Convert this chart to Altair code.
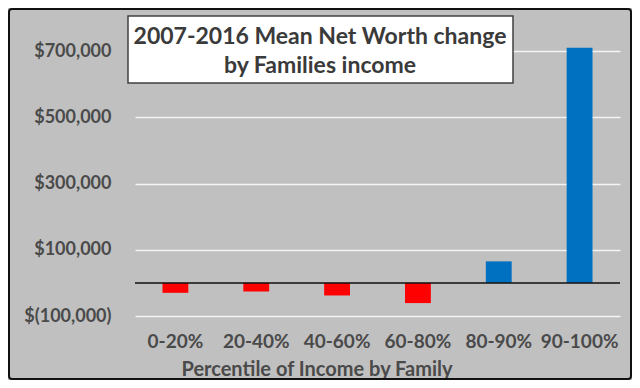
import altair as alt
import pandas as pd

categories = ["0-20%", "20-40%", "40-60%", "60-80%", "80-90%", "90-100%"]
values = [-30000, -26000, -38000, -61000, 65000, 710000]
y_ticks = [-100000, 100000, 300000, 500000, 700000]
title_lines = ["2007-2016 Mean Net Worth change", "by Families income"]
x_title = "Percentile of Income by Family"

df = pd.DataFrame({
    "cat": categories,
    "val": values,
    "sign": ["neg" if v < 0 else "pos" for v in values],
})

W, H = 485, 298
FONT = "Lato"
LABEL_COLOR = "#4a4a4a"

base = alt.Chart(df)

bars = base.mark_bar().encode(
    x=alt.X("cat:N", sort=categories,
            scale=alt.Scale(paddingInner=0.68, paddingOuter=0.34),
            axis=alt.Axis(title=None, labelAngle=0, labelPadding=16,
                          labelFont=FONT, labelFontSize=19, labelFontWeight="bold",
                          labelColor=LABEL_COLOR, domain=False, ticks=False)),
    y=alt.Y("val:Q",
            scale=alt.Scale(domain=[-100000, 800000], nice=False, zero=False),
            axis=alt.Axis(title=None, values=y_ticks,
                          labelExpr="datum.value < 0 ? '$(' + format(-datum.value, ',') + ')' : '$' + format(datum.value, ',')",
                          labelFont=FONT, labelFontSize=18, labelFontWeight="bold",
                          labelColor=LABEL_COLOR, labelPadding=24,
                          domain=False, ticks=False,
                          grid=True, gridColor="#f4f4f4", gridWidth=1.5)),
    color=alt.Color("sign:N", scale=alt.Scale(domain=["neg", "pos"], range=["#ff0000", "#0070c0"]),
                    legend=None),
)

zero = alt.Chart(pd.DataFrame({"z": [0]})).mark_rule(color="#111111", strokeWidth=1.5).encode(
    y="z:Q"
)

axis_title = alt.Chart(pd.DataFrame({"a": [0]})).mark_text(
    font=FONT, fontSize=20, fontWeight="bold", color=LABEL_COLOR,
    align="center", baseline="middle"
).encode(x=alt.value(182), y=alt.value(H + 54), text=alt.value(x_title))

box = alt.Chart(pd.DataFrame({"a": [0]})).mark_rect(
    fill="white", stroke="#404040", strokeWidth=1.5
).encode(x=alt.value(-7), x2=alt.value(378), y=alt.value(-2), y2=alt.value(65))

title_text = alt.Chart(pd.DataFrame({"a": [0]})).mark_text(
    font=FONT, fontSize=23, fontWeight="bold", color="#3a3a3a",
    align="center", baseline="middle", lineHeight=29
).encode(x=alt.value(185), y=alt.value(19), text=alt.value(title_lines))

frame = alt.Chart(pd.DataFrame({"a": [0]})).mark_rect(
    fill=None, stroke="#111111", strokeWidth=2, cornerRadius=3
).encode(x=alt.value(-126), x2=alt.value(W + 11), y=alt.value(-9), y2=alt.value(H + 63))

chart = alt.layer(bars, zero, axis_title, box, title_text, frame).properties(
    width=W, height=H,
    background="#c0c0c0",
    padding={"left": 127, "top": 10, "right": 12, "bottom": 64},
    autosize=alt.AutoSizeParams(type="none"),
).configure_view(stroke=None)

chart.save("out.html", embed_options={"renderer": "svg", "actions": False})
